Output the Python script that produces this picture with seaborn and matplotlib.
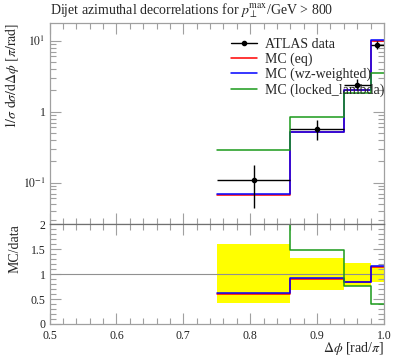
import numpy as np
import matplotlib
matplotlib.use('Agg')
import matplotlib.pyplot as plt
import matplotlib.ticker as mticker
from matplotlib.lines import Line2D
import pandas as pd
import seaborn as sns

# bin edges in delta phi [rad/pi]
edges = [0.75, 0.86, 0.94, 0.98, 1.0]
data_x = [0.805, 0.90, 0.96, 0.99]
data_y = [0.11, 0.57, 2.4, 8.7]
data_lo = [0.044, 0.40, 2.0, 7.6]
data_hi = [0.175, 0.75, 2.9, 9.8]
mc_eq = [0.066, 0.515, 2.0, 10.0]
mc_wz = [0.068, 0.52, 2.02, 10.1]
mc_locked = [0.29, 0.85, 1.82, 3.45]
band_lo = [0.42, 0.68, 0.77, 0.84]
band_hi = [1.6, 1.32, 1.22, 1.15]

sns.set_style('ticks')
plt.rcParams['font.family'] = ['Liberation Serif', 'DejaVu Serif']
plt.rcParams['mathtext.fontset'] = 'stix'

grey = '#a0a0a0'
series = [('MC (eq)', mc_eq, 'red'),
          ('MC (wz-weighted)', mc_wz, 'blue'),
          ('MC (locked_lambda)', mc_locked, '#1a9a1a')]

fig = plt.figure(figsize=(3.97, 3.58), dpi=100)
ax = fig.add_axes([0.125, 0.374, 0.842, 0.563])
rax = fig.add_axes([0.125, 0.095, 0.842, 0.279], sharex=ax)

def steps(vals):
    return pd.DataFrame({'x': edges, 'y': list(vals) + [vals[-1]]})

for name, vals, col in series:
    sns.lineplot(data=steps(vals), x='x', y='y', ax=ax, color=col,
                 drawstyle='steps-post', estimator=None, lw=1.1, legend=False)
    ratio = np.array(vals) / np.array(data_y)
    sns.lineplot(data=steps(ratio), x='x', y='y', ax=rax, color=col,
                 drawstyle='steps-post', estimator=None, lw=1.1, legend=False)

xerr = [np.array(data_x) - np.array(edges[:-1]), np.array(edges[1:]) - np.array(data_x)]
yerr = [np.array(data_y) - np.array(data_lo), np.array(data_hi) - np.array(data_y)]
ax.errorbar(data_x, data_y, xerr=xerr, yerr=yerr, fmt='o', ms=3, color='black',
            lw=1.0, capsize=0, zorder=5)

# ratio band
for i in range(4):
    rax.fill_between([edges[i], edges[i + 1]], band_lo[i], band_hi[i],
                     color='#ffff00', lw=0, zorder=0)
rax.axhline(1.0, color='#909090', lw=0.8, zorder=1)

ax.set_yscale('log')
ax.set_ylim(0.026, 18)
ax.set_xlim(0.5, 1.0)
rax.set_ylim(0, 2)

ax.yaxis.set_major_locator(mticker.FixedLocator([0.1, 1, 10]))
ax.yaxis.set_major_formatter(mticker.FixedFormatter(['$10^{-1}$', '1', '$10^{1}$']))
ax.yaxis.set_minor_locator(mticker.LogLocator(subs=np.arange(2, 10)))
ax.yaxis.set_minor_formatter(mticker.NullFormatter())

rax.xaxis.set_major_locator(mticker.MultipleLocator(0.1))
rax.xaxis.set_minor_locator(mticker.MultipleLocator(0.02))
rax.yaxis.set_major_locator(mticker.FixedLocator([0, 0.5, 1, 1.5, 2]))
rax.yaxis.set_major_formatter(mticker.FixedFormatter(['0', '0.5', '1', '1.5', '2']))
rax.yaxis.set_minor_locator(mticker.MultipleLocator(0.1))
rax.xaxis.set_major_formatter(mticker.FormatStrFormatter('%.1f'))

for a in (ax, rax):
    for s in a.spines.values():
        s.set_color(grey)
        s.set_linewidth(0.9)
    a.tick_params(which='both', direction='in', top=True, right=True,
                  color=grey, labelsize=8.5, labelcolor='#222222', pad=3)
    a.tick_params(which='major', length=8, width=0.8)
    a.tick_params(which='minor', length=4, width=0.8)
    a.set_xlabel('')
    a.set_ylabel('')
plt.setp(ax.get_xticklabels(), visible=False)
rax.tick_params(axis='x', pad=4)
rax.spines['top'].set_color('#707070')

ax.set_title(r'Dijet azimuthal decorrelations for $p_\perp^{\mathrm{max}}$/GeV > 800',
             fontsize=10, loc='left', x=0.0, pad=6)
ax.set_ylabel(r'$1/\sigma\ \mathrm{d}\sigma/\mathrm{d}\Delta\phi\ [\pi/\mathrm{rad}]$',
              fontsize=10, loc='top')
rax.set_ylabel('MC/data', fontsize=10, loc='top')
rax.set_xlabel(r'$\Delta\phi$ [rad/$\pi$]', fontsize=10, loc='right', labelpad=-1)
ax.yaxis.set_label_coords(-0.085, 1.0)
rax.yaxis.set_label_coords(-0.085, 1.0)

handles = [Line2D([], [], color='black', marker='o', ms=3, lw=1.0)]
handles += [Line2D([], [], color=col, lw=1.1) for _, _, col in series]
labels = ['ATLAS data'] + [name for name, _, _ in series]
ax.legend(handles, labels, loc='upper left',
          bbox_to_anchor=(0.525, 0.95), frameon=False, fontsize=10,
          handlelength=1.9, handletextpad=0.6, labelspacing=0.12, borderaxespad=0)

fig.savefig('out.png', dpi=100)
